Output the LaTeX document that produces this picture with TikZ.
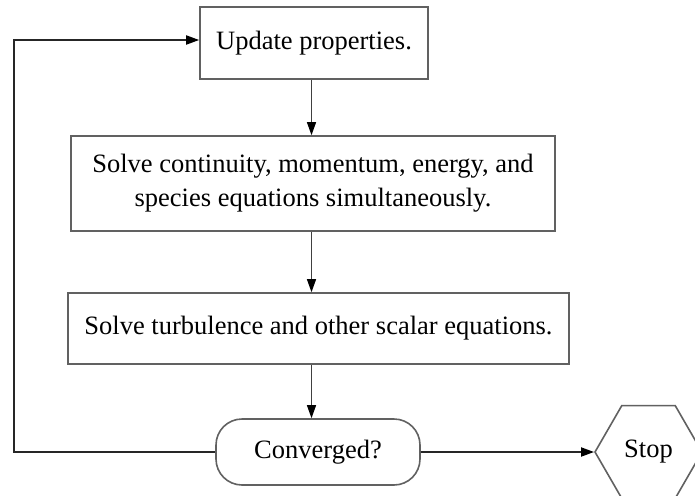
\documentclass[tikz,border=0pt]{standalone}
\usepackage{fontspec}
\setmainfont{Liberation Serif}
\usetikzlibrary{arrows.meta,shapes.geometric}
\begin{document}
\begin{tikzpicture}[x=1pt,y=-1pt,
  box/.style={draw=black!62,line width=1.6pt,inner sep=0pt,align=center,font=\fontsize{26.5}{34}\selectfont},
  conn/.style={draw=black!75,line width=1.2pt,-{Triangle[length=13pt,width=9pt,color=black]}},
  thickconn/.style={draw=black!85,line width=1.8pt,-{Triangle[length=13pt,width=9pt,color=black]}}
]
\useasboundingbox (0,0) rectangle (695,495);
\clip (0,0) rectangle (695,495);
\node[box,minimum width=228pt,minimum height=72pt] (b1) at (314,43) {Update properties.};
\node[box,minimum width=484pt,minimum height=95pt] (b2) at (313,183.5) {Solve continuity, momentum, energy, and\\species equations simultaneously.};
\node[box,minimum width=501pt,minimum height=71pt] (b3) at (318.5,328.5) {Solve turbulence and other scalar equations.};
\node[box,rounded corners=26pt,minimum width=204pt,minimum height=66pt] (conv) at (318,452) {Converged?};
\node[box,regular polygon,regular polygon sides=6,minimum size=107pt] (stop) at (648.5,452) {Stop};
\coordinate (ax) at (311.5,0);
\coordinate (lp) at (14,200);
\draw[conn] (b1.south -| ax) -- (b2.north -| ax);
\draw[conn] (b2.south -| ax) -- (b3.north -| ax);
\draw[conn] (b3.south -| ax) -- (conv.north -| ax);
\draw[thickconn] (conv.east) -- (stop.west);
\draw[thickconn] (conv.west) -| (lp) |- ([yshift=3pt]b1.west);
\end{tikzpicture}
\end{document}
